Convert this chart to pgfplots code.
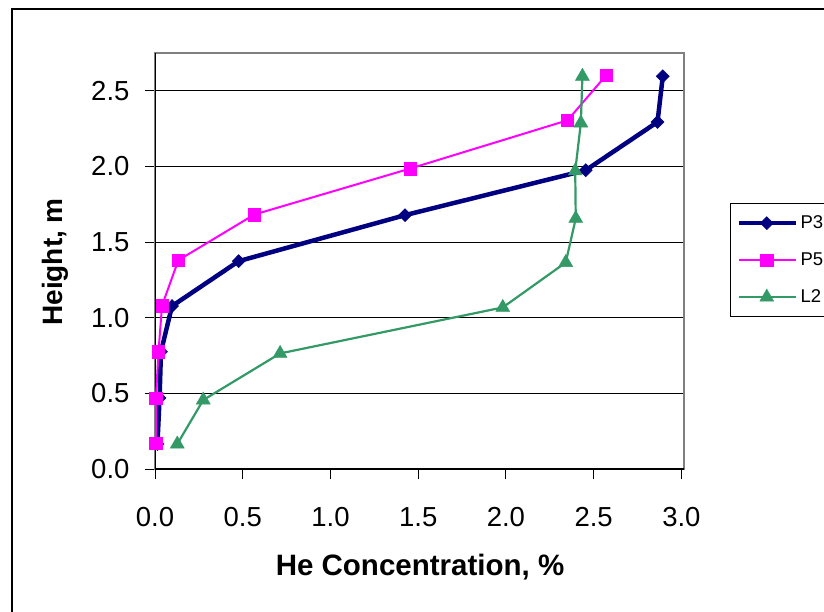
\documentclass[border=0pt]{standalone}
\usepackage{pgfplots}
\pgfplotsset{compat=1.18}
\usepackage{fontspec}
\setmainfont{Liberation Sans}
\definecolor{p3}{RGB}{0,0,128}
\definecolor{p5}{RGB}{255,0,255}
\definecolor{l2}{RGB}{51,153,102}
\definecolor{bordergray}{RGB}{128,128,128}
\begin{document}
\begin{tikzpicture}
\useasboundingbox (0pt,0pt) rectangle (824pt,611pt);
\draw[line width=1.5pt] (12pt,-10pt) -- (12pt,602pt) -- (840pt,602pt);
\begin{axis}[
  at={(155pt,142pt)}, anchor=south west,
  scale only axis, width=529pt, height=416pt,
  xmin=0, xmax=3.015, ymin=0, ymax=2.75,
  xtick={0,0.5,...,3}, ytick={0,0.5,...,2.5},
  xtick pos=bottom, ytick pos=left,
  tick align=outside, major tick length=10pt,
  tick style={black, line width=1pt},
  axis line style={draw=bordergray, line width=1.5pt},
  ymajorgrids, major grid style={black, line width=0.9pt},
  /pgf/number format/assume math mode=true,
  /pgf/number format/.cd, fixed, fixed zerofill, precision=1, /pgfplots/.cd,
  tick label style={font=\fontsize{27.5}{31}\selectfont},
  xticklabel style={yshift=-25pt},
  yticklabel style={xshift=-12pt},
  xlabel={He Concentration, \%},
  ylabel={Height, m},
  xlabel style={at={(rel axis cs:0.501,-0.2356)}, anchor=center, font=\bfseries\fontsize{29.5}{34}\selectfont},
  ylabel style={at={(rel axis cs:-0.189,0.4976)}, anchor=center, rotate=0, font=\bfseries\fontsize{28}{32}\selectfont},
  legend style={at={(rel axis cs:1.087,0.639)}, anchor=north west, draw=black, line width=1pt,
    font=\fontsize{18.5}{22}\selectfont, inner xsep=6pt, inner ysep=1pt,
    nodes={minimum height=37pt, inner ysep=0pt, inner xsep=2.5pt}},
  legend cell align=left,
  legend image code/.code={\draw[mark repeat=2,mark phase=2] plot coordinates {(0pt,0pt) (28pt,0pt) (57pt,0pt)};},
]
\draw[black, line width=1.3pt] (rel axis cs:0,1) -- (rel axis cs:0,0) -- (rel axis cs:1,0);
\addplot[color=p3, line width=4.5pt, mark=diamond*, mark size=6.5pt, mark options={xscale=1.33, line width=0.5pt, fill=p3}]
  coordinates {(0.014,0.165) (0.026,0.47) (0.034,0.775) (0.097,1.077) (0.477,1.374) (1.425,1.678) (2.455,1.975) (2.864,2.294) (2.894,2.596)};
\addlegendentry{P3\hspace{15pt}}
\addplot[color=p5, line width=2pt, mark=square*, mark size=6.2pt, mark options={line width=0.5pt, fill=p5}]
  coordinates {(0.005,0.17) (0.005,0.467) (0.02,0.775) (0.04,1.08) (0.133,1.38) (0.566,1.682) (1.454,1.986) (2.351,2.305) (2.571,2.602)};
\addlegendentry{P5\hspace{15pt}}
\addplot[color=l2, line width=2.2pt, mark=triangle*, mark size=8pt, mark options={line width=0.5pt, fill=l2}]
  coordinates {(0.127,0.165) (0.275,0.456) (0.713,0.764) (1.982,1.068) (2.341,1.365) (2.398,1.656) (2.395,1.97) (2.427,2.287) (2.436,2.596)};
\addlegendentry{L2\hspace{15pt}}
\end{axis}
\end{tikzpicture}
\end{document}
